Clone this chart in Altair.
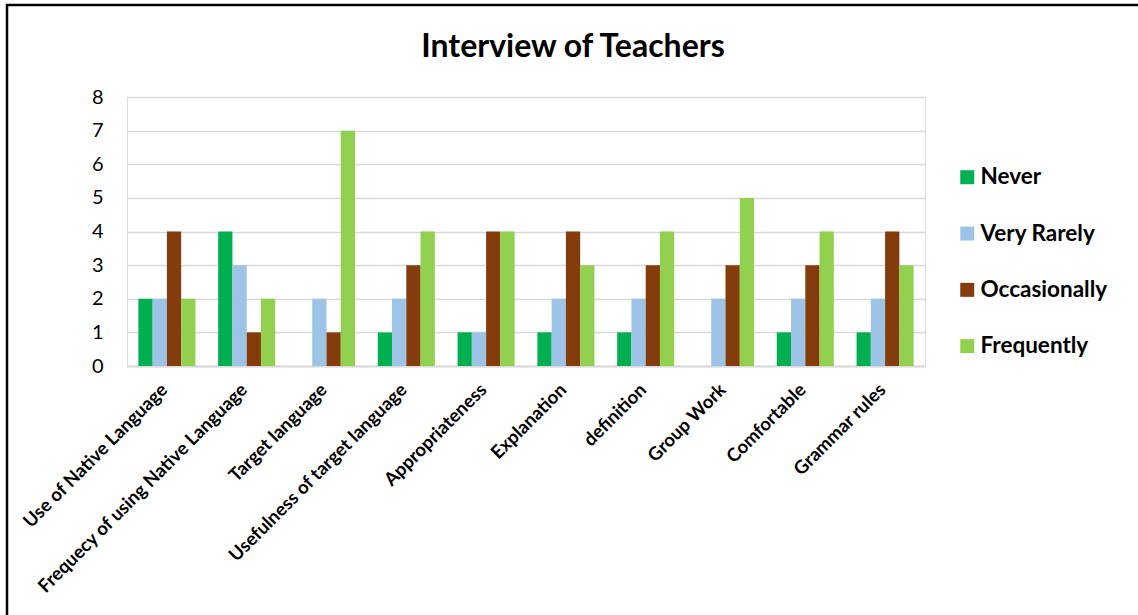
import altair as alt
import pandas as pd

categories = [
    "Use of Native Language",
    "Frequecy of using Native Language",
    "Target language",
    "Usefulness of target language",
    "Appropriateness",
    "Explanation",
    "definition",
    "Group Work",
    "Comfortable",
    "Grammar rules",
]
series = ["Never", "Very Rarely", "Occasionally", "Frequently"]
never = [2, 4, 0, 1, 1, 1, 1, 0, 1, 1]
very_rarely = [2, 3, 2, 2, 1, 2, 2, 2, 2, 2]
occasionally = [4, 1, 1, 3, 4, 4, 3, 3, 3, 4]
frequently = [2, 2, 7, 4, 4, 3, 4, 5, 4, 3]
colors = ["#00B050", "#9DC3E6", "#843C0C", "#92D050"]
title_text = ["Interview of Teachers"]

rows = []
for s, vals in zip(series, [never, very_rarely, occasionally, frequently]):
    for c, v in zip(categories, vals):
        rows.append({"category": c, "series": s, "value": v})
df = pd.DataFrame(rows)

FONT = "Lato"
PL, PT, W, H = 127, 97, 798, 269

bars = alt.Chart(df).mark_bar().encode(
    x=alt.X("category:N", sort=categories,
            scale=alt.Scale(paddingInner=0.285, paddingOuter=0.1425),
            axis=alt.Axis(title=None, labelAngle=-45, labelAlign="right", labelBaseline="top",
                          labelFont=FONT, labelFontWeight="bold", labelFontSize=18.5,
                          labelColor="black", labelPadding=14, labelOffset=-9, ticks=False,
                          domain=True, domainColor="#D9D9D9", domainWidth=2,
                          labelLimit=400)),
    xOffset=alt.XOffset("series:N", sort=series, scale=alt.Scale(paddingInner=0, paddingOuter=0)),
    y=alt.Y("value:Q", scale=alt.Scale(domain=[0, 8]),
            axis=alt.Axis(title=None, values=[0, 1, 2, 3, 4, 5, 6, 7, 8], labelFont=FONT,
                          labelFontSize=20, labelColor="black", labelPadding=24,
                          ticks=False, domain=False, gridColor="#D9D9D9", gridWidth=1.5)),
    color=alt.Color("series:N", sort=series,
                    scale=alt.Scale(domain=series, range=colors),
                    legend=alt.Legend(title=None, orient="none", legendX=829, legendY=69,
                                      symbolType="square", symbolSize=196, symbolStrokeWidth=0,
                                      labelFont=FONT, labelFontWeight="bold", labelFontSize=22.5,
                                      labelColor="black", labelOffset=2, rowPadding=33.3)),
)

title = alt.Chart(pd.DataFrame({"t": title_text})).mark_text(
    font=FONT, fontSize=32, fontWeight="bold", color="black", align="center", baseline="middle"
).encode(
    text="t:N", x=alt.value(573 - PL), y=alt.value(47 - PT),
)

border = alt.Chart(pd.DataFrame({"a": [0]})).mark_rect(
    fill=None, stroke="black", strokeWidth=2.5, clip=False
).encode(
    x=alt.value(7 - PL), x2=alt.value(1160 - PL),
    y=alt.value(5 - PT), y2=alt.value(640 - PT),
)

chart = alt.layer(bars, title, border).properties(
    width=W, height=H,
    autosize=alt.AutoSizeParams(type="none"),
    padding={"left": PL, "top": PT, "right": 1138 - PL - W, "bottom": 615 - PT - H},
).configure_view(stroke=None).configure(background="white")

chart.save("out.html", embed_options={"renderer": "svg", "actions": False})
